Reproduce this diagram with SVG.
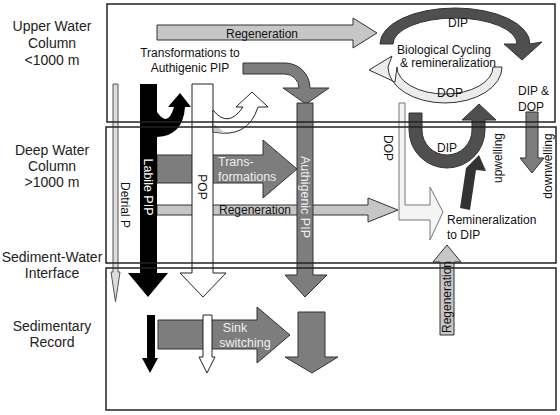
<svg xmlns="http://www.w3.org/2000/svg" width="560" height="415" viewBox="0 0 560 415">
<style>
.lbl{font-family:"Liberation Sans",Arial,sans-serif;font-size:14px;fill:#222;text-anchor:middle}
.t{font-family:"Liberation Sans",Arial,sans-serif;font-size:12px;fill:#111}
.tw{font-family:"Liberation Sans",Arial,sans-serif;font-size:12.5px;fill:#eee}
.frame{fill:none;stroke:#222;stroke-width:1.5}
.ar{stroke:#333;stroke-width:1}
.black{fill:#000}
.white{fill:#fff}
.mid{fill:#7d7d7d}
.light{fill:#c6c6c6}
.dark{fill:#4f4f4f}
.pale{fill:#ececec}
</style>
<rect width="560" height="415" fill="#fff"/>
<g id="labels">
<text class="lbl" x="52" y="31">Upper Water</text>
<text class="lbl" x="52" y="48">Column</text>
<text class="lbl" x="52" y="65">&lt;1000 m</text>
<text class="lbl" x="52" y="155">Deep Water</text>
<text class="lbl" x="52" y="171">Column</text>
<text class="lbl" x="52" y="187">&gt;1000 m</text>
<text class="lbl" x="52" y="262">Sediment-Water</text>
<text class="lbl" x="52" y="278">Interface</text>
<text class="lbl" x="52" y="331">Sedimentary</text>
<text class="lbl" x="52" y="347">Record</text>
</g>
<g id="connectors">
<g id="regeneration-top">
<polygon class="light ar" points="157,25 353,25 353,18 377,33 353,48 353,40 157,40"/>
<text class="t" x="262" y="37.5" text-anchor="middle" font-size="13">Regeneration</text>
</g>
<g id="transformations-deep">
<polygon class="mid ar" points="157,155 263,155 263,140 297,169 263,198 263,183 157,183"/>
</g>
<g id="regeneration-deep">
<polygon class="light ar" points="157,205 368,205 368,198 398,210 368,222 368,215 157,215"/>
</g>
<g id="sink-switching">
<polygon class="mid ar" points="158,320 257,320 257,307 290,335 257,363 257,349 158,349"/>
</g>
</g>
<g id="detrital-p">
<polygon fill="#ddd" stroke="#555" stroke-width="1" points="113,84 118,84 118,272 120,272 115.5,302 111,272 113,272"/>
<text class="t" transform="translate(121,205) rotate(90)" text-anchor="middle">Detrial P</text>
</g>
<g id="labile-pip">
<polygon class="black" points="140,84 157,84 157,273 168,273 148,297 128,273 140,273"/>
<path class="black" d="M157 112 Q168 128 174 107 L168 107 L180 93 L191 107 L185 107 Q183 136 157 137 Z"/>
<text class="tw" transform="translate(144,187) rotate(90)" text-anchor="middle" style="fill:#fff">Labile PIP</text>
</g>
<g id="pop">
<polygon class="white" stroke="#222" stroke-width="1" points="192,84 213,84 213,273 226,273 203,297 180,273 192,273"/>
<path fill="#fff" stroke="#222" stroke-width="1" d="M213 110 Q228 129 243 107 L236 107 L252 92 L268 107 L258 107 Q248 139 213 132 Z"/>
<polygon fill="#c8c8c8" points="214,124 225,133 214,132"/>
<text class="t" transform="translate(198,187) rotate(90)" text-anchor="middle">POP</text>
</g>
<g id="trans-text">
<text class="tw" x="218" y="166">Trans-</text>
<text class="tw" x="218" y="181">formations</text>
<text class="t" x="255" y="214" text-anchor="middle">Regeneration</text>
</g>
<g id="authigenic-pip">
<path class="mid ar" d="M243 63 L285 63 A25 25 0 0 1 310 88 L329 88 L306 104 L283 88 L299 88 A14 14 0 0 0 285 74 L243 74 Z"/>
<text class="t" x="190" y="57" text-anchor="middle">Transformations to</text>
<text class="t" x="190" y="72" text-anchor="middle">Authigenic PIP</text>
<polygon class="mid ar" points="297,103 313,103 313,275 327,275 305,297 285,275 297,275"/>
<text class="tw" transform="translate(301,197) rotate(90)" text-anchor="middle">Authigenic PIP</text>
</g>
<g id="bio-cycle">
<path class="dark ar" d="M380 44 A75 36 0 0 1 530 44 L542 42 L522 60 L504 44 L517 44 A62 26 0 0 0 393 44 Z"/>
<path class="pale ar" d="M502 67 A57 36 0 0 1 388 67 L392 56 L369 70 L395 82 L397 67 A48 27 0 0 0 493 67 Z"/>
<text class="t" x="458" y="27" text-anchor="middle" font-size="13">DIP</text>
<text class="t" x="444" y="54" text-anchor="middle" fill="#444">Biological Cycling</text>
<text class="t" x="448" y="67" text-anchor="middle" fill="#444">&amp; remineralization</text>
<text class="t" x="450" y="97" text-anchor="middle" font-size="13">DOP</text>
<text class="t" x="518" y="95" font-size="13">DIP &amp;</text>
<text class="t" x="518" y="111" font-size="13">DOP</text>
</g>
<g id="dop-deep">
<polygon fill="#f4f4f4" stroke="#777" stroke-width="1" points="399,103 405,103 405,205 430,205 430,187 443,212 430,240 430,220 399,220"/>
<text class="t" transform="translate(384,148) rotate(90)" text-anchor="middle" font-size="13">DOP</text>
</g>
<g id="dip-upwelling">
<path class="dark ar" d="M409 113 L409 130 A38 38 0 0 0 485 130 L485 120 L496 120 L479 104 L462 120 L472 120 L472 130 A25 25 0 0 1 422 130 L422 113 Z"/>
<text class="t" x="447" y="152" text-anchor="middle" font-size="13">DIP</text>
<polygon fill="#333" points="460,208 470,210 476,170 486,171 479,155 466,168"/>
<text class="t" transform="translate(502,158) rotate(-90)" text-anchor="middle" font-size="13">upwelling</text>
</g>
<g id="downwelling">
<polygon class="mid ar" points="526,112 538,112 538,158 544,158 532,173 520,158 526,158"/>
<text class="t" transform="translate(552,166) rotate(-90)" text-anchor="middle" font-size="13">downwelling</text>
</g>
<g id="remineralization">
<text class="t" x="447" y="224">Remineralization</text>
<text class="t" x="447" y="239">to DIP</text>
</g>
<g id="regeneration-up">
<polygon class="light ar" points="440,335 454,335 454,262 461,262 447,245 433,262 440,262"/>
<text class="t" transform="translate(451,297) rotate(-90)" text-anchor="middle">Regeneration</text>
</g>
<g id="sediment-arrows">
<polygon class="black" points="147,315 155,315 155,358 158,358 150,373 142,358 147,358"/>
<polygon class="white" stroke="#222" stroke-width="1" points="203,315 212,315 212,357 215,357 207,373 199,357 203,357"/>
<text class="tw" x="235" y="332" text-anchor="middle">Sink</text>
<text class="tw" x="245" y="347" text-anchor="middle">switching</text>
<polygon class="mid ar" points="298,312 325,312 325,357 338,357 312,373 285,357 298,357"/>
</g>
<g id="frames">
<rect class="frame" x="107" y="4" width="448" height="118"/>
<rect class="frame" x="106" y="127" width="450" height="136"/>
<rect class="frame" x="106" y="268" width="450" height="142"/>
</g>
</svg>
